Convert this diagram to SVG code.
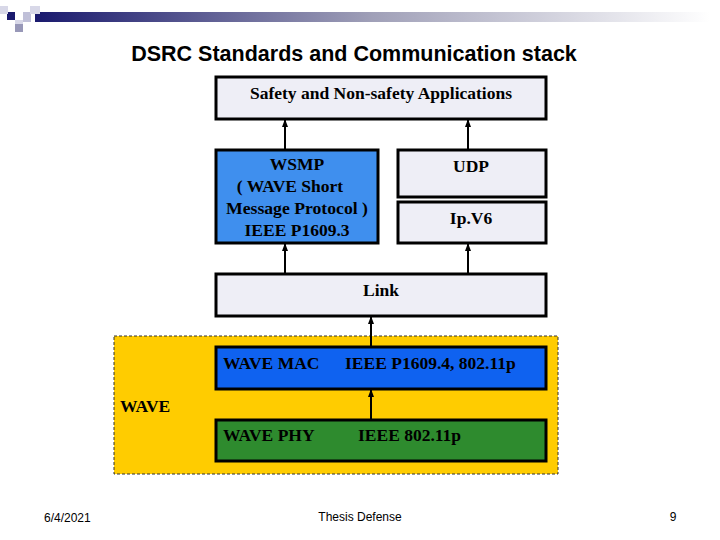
<svg xmlns="http://www.w3.org/2000/svg" width="720" height="540" viewBox="0 0 720 540">
<defs>
<linearGradient id="bar" x1="0" x2="1"><stop offset="0" stop-color="#1a1a6e"/><stop offset="0.5" stop-color="#a0a0b8"/><stop offset="1" stop-color="#ffffff"/></linearGradient>
<marker id="ah" markerWidth="8" markerHeight="8" refX="7" refY="4" orient="auto" markerUnits="userSpaceOnUse"><path d="M0,1 L8,4 L0,7 Z" fill="#000"/></marker>
<style>
.box{stroke:#000;stroke-width:3}
.t{font-family:"Liberation Serif",serif;font-weight:bold;font-size:17.5px;fill:#000}
.c{stroke:#000;stroke-width:2;fill:none;marker-end:url(#ah)}
.f{font-family:"Liberation Sans",sans-serif;font-size:12px;fill:#000}
</style>
</defs>
<rect x="0" y="0" width="720" height="540" fill="#fff"/>
<g id="decor">
<rect x="35" y="12" width="675" height="10" fill="url(#bar)"/>
<rect x="7" y="12" width="8" height="8" fill="#1a1a6e"/>
<rect x="0" y="6" width="8" height="8" fill="#d8d8e8"/>
<rect x="15" y="20" width="8" height="8" fill="#d8d8e8"/>
<rect x="23" y="12" width="8" height="10" fill="#c0c0d8"/>
<rect x="30" y="6" width="10" height="8" fill="#d8d8e8"/>
<rect x="15" y="24" width="8" height="8" fill="#9898b8"/>
</g>
<text x="354" y="61" text-anchor="middle" font-family="Liberation Sans, sans-serif" font-weight="bold" font-size="21.5" fill="#000">DSRC Standards and Communication stack</text>
<g id="wave">
<rect x="114" y="336" width="444" height="138" fill="#ffcc00" stroke="#333" stroke-width="1" stroke-dasharray="3,2"/>
<text x="120" y="412" class="t">WAVE</text>
</g>
<g id="apps"><rect class="box" x="216" y="77" width="330" height="42" fill="#eeeef6"/><text class="t" x="381" y="99" text-anchor="middle">Safety and Non-safety Applications</text></g>
<g id="wsmp"><rect class="box" x="216" y="150" width="162" height="93" fill="#3f8fee"/>
<text class="t" text-anchor="middle" font-size="16.5"><tspan x="297" y="170">WSMP</tspan><tspan x="290" y="192">( WAVE Short</tspan><tspan x="297" y="214" textLength="142" lengthAdjust="spacingAndGlyphs">Message Protocol )</tspan><tspan x="297" y="236">IEEE P1609.3</tspan></text></g>
<g id="udp"><rect class="box" x="398" y="150" width="148" height="47" fill="#eeeef6"/><text class="t" x="471" y="172" text-anchor="middle">UDP</text></g>
<g id="ipv6"><rect class="box" x="398" y="202" width="148" height="41" fill="#eeeef6"/><text class="t" x="471" y="224" text-anchor="middle">Ip.V6</text></g>
<g id="link"><rect class="box" x="216" y="274" width="330" height="42" fill="#eeeef6"/><text class="t" x="381" y="296" text-anchor="middle">Link</text></g>
<g id="mac"><rect class="box" x="216" y="347" width="330" height="42" fill="#0f62f0"/><text class="t" x="223" y="369">WAVE MAC</text><text class="t" x="345" y="369">IEEE P1609.4, 802.11p</text></g>
<g id="phy"><rect class="box" x="216" y="420" width="330" height="41" fill="#2e8b2e"/><text class="t" x="223" y="441">WAVE PHY</text><text class="t" x="358" y="441">IEEE 802.11p</text></g>
<g id="connectors">
<line class="c" x1="285" y1="150" x2="285" y2="120"/>
<line class="c" x1="468" y1="150" x2="468" y2="120"/>
<line class="c" x1="285" y1="274" x2="285" y2="244"/>
<line class="c" x1="468" y1="274" x2="468" y2="244"/>
<line class="c" x1="371" y1="347" x2="371" y2="317"/>
<line class="c" x1="371" y1="420" x2="371" y2="390"/>
</g>
<text class="f" x="44" y="522">6/4/2021</text>
<text class="f" x="360" y="521" text-anchor="middle">Thesis Defense</text>
<text class="f" x="673" y="521" text-anchor="middle">9</text>
</svg>
